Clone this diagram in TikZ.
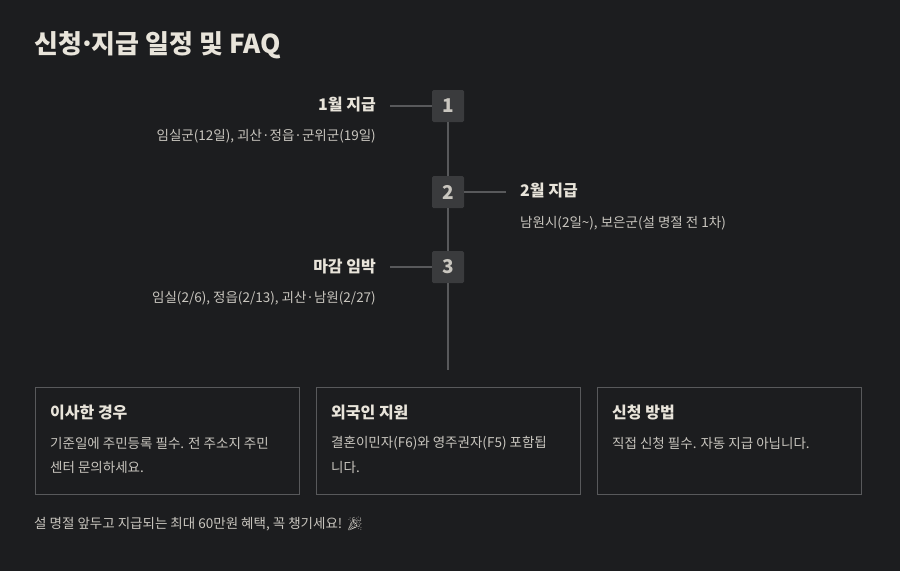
\documentclass[tikz,border=0pt]{standalone}
\usepackage{fontspec}
\setmainfont{Noto Sans CJK KR}
\newfontfamily\emo{Noto Emoji}
\definecolor{bg}{HTML}{1C1D1F}
\definecolor{tt}{HTML}{E8E4DA}
\definecolor{bd}{HTML}{C9C6BF}
\definecolor{ln}{HTML}{58595B}
\definecolor{sq}{HTML}{3A3B3D}
\begin{document}
\begin{tikzpicture}[x=1pt,y=-1pt,
  sqr/.style={fill=sq,minimum size=32pt,inner sep=0,text=bd,font=\bfseries\fontsize{19}{20}\selectfont,rounded corners=1.5pt},
  hd/.style={text=tt,font=\bfseries\fontsize{16}{18}\selectfont,inner sep=0},
  sb/.style={text=bd,font=\fontsize{13.5}{15}\selectfont,inner sep=0},
  card/.style={draw=ln,line width=0.8pt,minimum width=264pt,minimum height=107pt,inner sep=0},
  conn/.style={draw=ln,line width=1.5pt}]
\fill[bg] (0,0) rectangle (900,571);
\useasboundingbox (0,0) rectangle (900,571);
\node[anchor=west,text=tt,font=\bfseries\fontsize{26}{28}\selectfont,inner sep=0] (title) at (34,45) {신청{\kern-3pt}·{\kern-3pt}지급 일정 및 FAQ};
\coordinate (end) at (448,370);
\node[sqr] (s1) at (448,106) {1};
\node[sqr] (s2) at (448,192) {2};
\node[sqr] (s3) at (448,267) {3};
\draw[conn] (s1) -- (s2); \draw[conn] (s2) -- (s3); \draw[conn] (s3) -- (end);
\node[hd,anchor=east] (h1) at (376,105) {1월 지급};
\node[sb,anchor=east] (b1) at (376,136) {임실군(12일), 괴산·정읍·군위군(19일)};
\node[hd,anchor=west] (h2) at (520,191) {2월 지급};
\node[sb,anchor=west] (b2) at (520,223) {남원시(2일\textasciitilde), 보은군(설 명절 전 1차)};
\node[hd,anchor=east] (h3) at (376,267) {마감 임박};
\node[sb,anchor=east] (b3) at (376,298) {임실(2/6), 정읍(2/13), 괴산·남원(2/27)};
\coordinate (l1) at (390,106);
\coordinate (r2) at (506,192);
\coordinate (l3) at (390,267);
\draw[conn,line width=1.2pt] (l1) -- (s1.west);
\draw[conn,line width=1.2pt] (s2.east) -- (r2);
\draw[conn,line width=1.2pt] (l3) -- (s3.west);
\node[card,anchor=north west] (c1) at (35,387) {};
\node[card,anchor=north west] (c2) at (316,387) {};
\node[card,anchor=north west] (c3) at (597,387) {};
\node[hd,anchor=west] at (50,413) {이사한 경우};
\node[sb,anchor=west] at (50,443) {기준일에 주민등록 필수. 전 주소지 주민};
\node[sb,anchor=west] at (50,467) {센터 문의하세요.};
\node[hd,anchor=west] at (331,413) {외국인 지원};
\node[sb,anchor=west] at (331,443) {결혼이민자(F6)와 영주권자(F5) 포함됩};
\node[sb,anchor=west] at (331,467) {니다.};
\node[hd,anchor=west] at (612,413) {신청 방법};
\node[sb,anchor=west] at (612,443) {직접 신청 필수. 자동 지급 아닙니다.};
\node[sb,anchor=west] (foot) at (34,524) {설 명절 앞두고 지급되는 최대 60만원 혜택, 꼭 챙기세요! {\emo 🎉}};
\end{tikzpicture}
\end{document}
